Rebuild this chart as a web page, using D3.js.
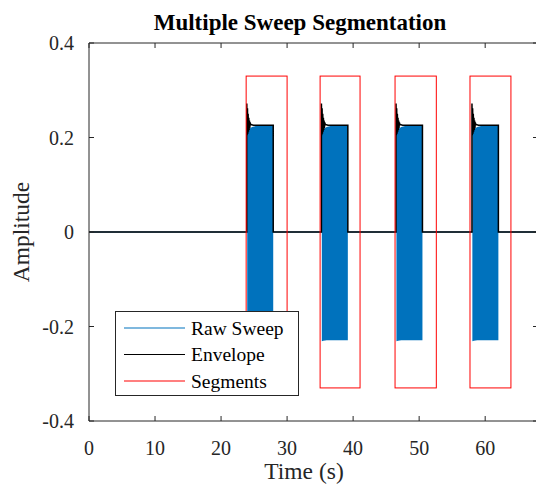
<!DOCTYPE html>
<html>
<head>
<meta charset="utf-8">
<script src="https://cdn.jsdelivr.net/npm/d3@7"></script>
<style>
  body { margin: 0; background: #fff; }
  svg { display: block; font-family: "Liberation Serif", "DejaVu Serif", serif; }
</style>
</head>
<body>
<div id="chart"></div>
<script>
// sweep timing (s)
var sweepStart = [23.9, 35.2, 46.5, 58.0];
var sweepLen = 4.0;
// segment boxes (s) and their amplitude limits
var segStart = [23.8, 35.0, 46.35, 57.7];
var segEnd = [30.0, 41.05, 52.6, 63.9];
var segAmp = 0.33;
// raw sweep band (offset from sweep start, upper, lower)
var bandT = [0.06, 0.3, 0.8, 1.5, 2.5, 4.0];
var bandHi = [0.212, 0.218, 0.222, 0.225, 0.226, 0.226];
var bandLo = [-0.231, -0.230, -0.229, -0.229, -0.229, -0.229];
// envelope shape with ringing at the sweep onset (offset from sweep start, value)
var envT = [0, 0, 0.05, 0.1, 0.15, 0.2, 0.25, 0.3, 0.35, 0.4, 0.45, 0.5, 0.6, 0.75, 1.0, 4.0, 4.0];
var envV = [0, 0.272, 0.205, 0.262, 0.208, 0.25, 0.212, 0.242, 0.216, 0.236, 0.22, 0.232, 0.227, 0.227, 0.226, 0.226, 0];

var xTicks = [0, 10, 20, 30, 40, 50, 60];
var yTicks = [-0.4, -0.2, 0, 0.2, 0.4];
var legendNames = ["Raw Sweep", "Envelope", "Segments"];
var legendColors = ["#0072BD", "#000000", "#FF0000"];

var W = 536, H = 488;
var x = d3.scaleLinear().domain([0, 68]).range([89, 538]);
var y = d3.scaleLinear().domain([-0.4, 0.4]).range([421, 43]);
var axisCol = "#262626";

var svg = d3.select("#chart").append("svg")
    .attr("width", W).attr("height", H);

// zero line of the raw signal outside sweeps
svg.append("line")
    .attr("x1", x(0)).attr("x2", x(68))
    .attr("y1", y(0)).attr("y2", y(0))
    .attr("stroke", "#0072BD").attr("stroke-width", 1);

// raw sweep bands
var area = d3.area()
    .x(function(d) { return x(d.t); })
    .y0(function(d) { return y(d.lo); })
    .y1(function(d) { return y(d.hi); });

sweepStart.forEach(function(s) {
    var pts = bandT.map(function(t, i) {
        return { t: s + t, hi: bandHi[i], lo: bandLo[i] };
    });
    svg.append("path").datum(pts)
        .attr("d", area)
        .attr("fill", "#0072BD");
});

// envelope
var envPts = [{ t: 0, v: 0 }];
sweepStart.forEach(function(s) {
    envT.forEach(function(t, i) { envPts.push({ t: s + t, v: envV[i] }); });
});
envPts.push({ t: 68, v: 0 });

svg.append("path").datum(envPts)
    .attr("d", d3.line().x(function(d) { return x(d.t); }).y(function(d) { return y(d.v); }))
    .attr("fill", "none").attr("stroke", "#000").attr("stroke-width", 1.5);

// segment boxes
segStart.forEach(function(s, i) {
    svg.append("rect")
        .attr("x", x(s)).attr("y", y(segAmp))
        .attr("width", x(segEnd[i]) - x(s))
        .attr("height", y(-segAmp) - y(segAmp))
        .attr("fill", "none").attr("stroke", "#FF0000").attr("stroke-width", 1);
});

// axes (box on, ticks inward)
var g = svg.append("g");
g.append("path")
    .attr("d", "M" + x(68) + "," + y(0.4) + "H" + x(0) + "V" + y(-0.4) + "H" + x(68))
    .attr("fill", "none").attr("stroke", axisCol).attr("stroke-width", 1);

xTicks.forEach(function(t) {
    g.append("line").attr("x1", x(t)).attr("x2", x(t))
        .attr("y1", y(-0.4)).attr("y2", y(-0.4) - 5).attr("stroke", axisCol);
    g.append("line").attr("x1", x(t)).attr("x2", x(t))
        .attr("y1", y(0.4)).attr("y2", y(0.4) + 5).attr("stroke", axisCol);
    g.append("text").attr("x", x(t)).attr("y", 455)
        .attr("text-anchor", "middle").attr("font-size", 20).attr("fill", axisCol)
        .text(t);
});
yTicks.forEach(function(t) {
    g.append("line").attr("x1", x(0)).attr("x2", x(0) + 5)
        .attr("y1", y(t)).attr("y2", y(t)).attr("stroke", axisCol);
    g.append("line").attr("x1", x(68)).attr("x2", x(68) - 5)
        .attr("y1", y(t)).attr("y2", y(t)).attr("stroke", axisCol);
    g.append("text").attr("x", 74).attr("y", y(t) + 7)
        .attr("text-anchor", "end").attr("font-size", 20).attr("fill", axisCol)
        .text(t === 0 ? "0" : t.toFixed(1));
});

svg.append("text").attr("x", 304).attr("y", 479)
    .attr("text-anchor", "middle").attr("font-size", 23.5).attr("fill", axisCol)
    .text("Time (s)");
svg.append("text")
    .attr("transform", "translate(29," + y(0) + ") rotate(-90)")
    .attr("text-anchor", "middle").attr("font-size", 23.5).attr("fill", axisCol)
    .text("Amplitude");
svg.append("text").attr("x", 300).attr("y", 30)
    .attr("text-anchor", "middle").attr("font-size", 23).attr("font-weight", "bold")
    .attr("fill", "#000")
    .text("Multiple Sweep Segmentation");

// legend
var lg = svg.append("g");
lg.append("rect").attr("x", 115.5).attr("y", 311.5).attr("width", 183).attr("height", 84)
    .attr("fill", "#fff").attr("stroke", axisCol).attr("stroke-width", 1);
legendNames.forEach(function(n, i) {
    var yy = 328 + i * 26.5;
    lg.append("line").attr("x1", 124).attr("x2", 185).attr("y1", yy).attr("y2", yy)
        .attr("stroke", legendColors[i]).attr("stroke-width", 1.2);
    lg.append("text").attr("x", 191).attr("y", yy + 6.5)
        .attr("font-size", 19.5).attr("fill", "#000").text(n);
});
</script>
</body>
</html>
